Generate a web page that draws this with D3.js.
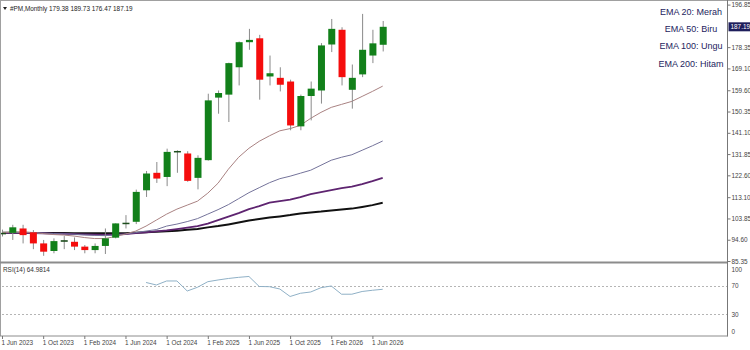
<!DOCTYPE html>
<html>
<head>
<meta charset="utf-8">
<script src="https://cdn.jsdelivr.net/npm/d3@7"></script>
<style>
  body { margin: 0; background: #fff; }
  svg { display: block; font-family: "Liberation Sans", Arial, sans-serif; }
</style>
</head>
<body>
<div id="container"></div>
<script>
// monthly bars, Jun 2023 .. Jul 2026
const months = ["2023-06","2023-07","2023-08","2023-09","2023-10","2023-11","2023-12",
  "2024-01","2024-02","2024-03","2024-04","2024-05","2024-06","2024-07","2024-08","2024-09","2024-10","2024-11","2024-12",
  "2025-01","2025-02","2025-03","2025-04","2025-05","2025-06","2025-07","2025-08","2025-09","2025-10","2025-11","2025-12",
  "2026-01","2026-02","2026-03","2026-04","2026-05","2026-06","2026-07"];
const open  = [97.3, 97.6, 99.5, 97.8, 93.0, 89.7, 93.7, 93.7, 91.6, 90.1, 91.9, 95.5, 101.7, 102.4, 116.1, 123.7, 121.9, 132.8, 132.1,
  121.5, 129.2, 156.4, 157.7, 169.6, 180.5, 182.2, 165.6, 165.0, 163.4, 143.9, 157.1, 159.5, 179.5, 185.9, 159.8, 166.5, 174.7, 179.38];
const high  = [99.0, 101.1, 101.1, 98.8, 94.5, 95.2, 96.2, 95.6, 92.3, 93.0, 99.5, 101.7, 105.3, 116.4, 124.5, 128.4, 134.2, 133.5, 133.1,
  131.3, 158.1, 159.5, 171.6, 180.8, 186.3, 183.7, 174.7, 169.6, 164.2, 157.7, 163.4, 180.1, 190.6, 187.0, 170.8, 192.8, 185.9, 189.73];
const low   = [96.0, 94.5, 93.0, 90.5, 87.6, 88.7, 90.5, 90.1, 88.7, 88.7, 88.4, 95.2, 99.5, 101.4, 113.2, 119.3, 117.9, 123.7, 119.8,
  116.5, 129.0, 149.4, 145.8, 161.7, 177.2, 155.5, 161.7, 159.1, 142.2, 142.2, 146.5, 153.8, 176.2, 161.7, 151.6, 165.3, 171.4, 176.47];
const close = [97.6, 100.0, 96.6, 93.0, 89.4, 94.0, 94.4, 91.6, 90.1, 91.9, 95.2, 101.7, 102.0, 115.4, 123.4, 121.2, 132.8, 133.2, 120.2,
  130.2, 155.2, 158.4, 171.4, 180.5, 181.5, 164.2, 167.0, 162.0, 144.3, 157.1, 160.3, 179.1, 186.3, 165.3, 165.0, 177.2, 180.0, 187.19];

// moving averages
const ema20  = [97.71, 97.93, 97.93, 97.71, 97.28, 96.85, 96.63, 96.20, 95.55, 95.11, 95.11, 95.98, 97.06, 98.37, 100.53, 103.14, 105.74,
  107.91, 109.65, 111.38, 114.85, 119.19, 125.26, 130.47, 134.37, 137.41, 139.80, 141.97, 142.92, 144.35, 147.39, 149.99, 152.16,
  153.46, 154.76, 156.93, 159.10, 161.40];
const ema50  = [97.71, 97.71, 97.71, 97.58, 97.50, 97.28, 97.15, 96.98, 96.72, 96.50, 96.37, 96.63, 97.06, 97.71, 98.37, 99.02, 100.53,
  101.40, 102.49, 103.79, 105.74, 107.69, 109.86, 112.46, 115.07, 117.24, 119.41, 121.14, 122.23, 123.53, 124.83, 127.00, 129.17,
  130.47, 131.55, 133.51, 135.46, 137.54];
const ema100 = [97.58, 97.58, 97.58, 97.50, 97.41, 97.28, 97.19, 97.06, 96.93, 96.80, 96.72, 96.85, 97.06, 97.50, 97.80, 98.24, 98.67,
  99.23, 99.88, 100.53, 101.62, 103.14, 104.66, 106.17, 107.91, 109.21, 110.73, 111.38, 112.03, 113.12, 114.42, 115.28, 116.15,
  117.02, 117.67, 118.76, 120.06, 121.49];
const ema200 = [97.63, 97.63, 97.63, 97.58, 97.54, 97.50, 97.50, 97.45, 97.41, 97.37, 97.37, 97.37, 97.41, 97.63, 97.80, 98.02, 98.28,
  98.54, 98.89, 99.23, 99.97, 100.53, 101.27, 102.05, 102.92, 103.57, 104.22, 104.74, 105.31, 106.04, 106.48, 106.83, 107.35,
  107.78, 108.13, 108.86, 109.65, 110.64];

// RSI(14), first value at Aug 2024
const rsiStart = 14;
const rsi = [74.5, 71.0, 76.6, 76.6, 62.6, 67.8, 75.6, 78.0, 80.1, 81.7, 82.9, 68.9, 68.6, 65.4, 54.9, 59.4, 61.2, 67.2, 69.6,
  58.1, 58.1, 61.9, 63.6, 64.98];

const priceTicks = [196.85, 178.35, 169.10, 159.60, 150.35, 141.10, 131.85, 122.60, 113.10, 103.85, 94.60, 85.35];
const rsiTicks = [100, 70, 30, 0];
const rsiLevels = [70, 30];
const legendLabels = ["EMA 20: Merah", "EMA 50: Biru", "EMA 100: Ungu", "EMA 200: Hitam"];

let width = 750;
let height = 350;
let plotRight = 727.5;

let svg = d3.create('svg').attr('width', width).attr('height', height);

let parse = d3.timeParse('%Y-%m');
let dates = months.map(parse);

let x = d3.scalePoint().domain(d3.range(dates.length)).range([2, 382.7]);
let y = d3.scaleLinear().domain([85.35, 196.85]).range([261, 4.6]);
let yR = d3.scaleLinear().domain([0, 100]).range([335.75, 264.25]);

svg.append('clipPath').attr('id', 'plot-clip')
  .append('rect').attr('x', 1).attr('y', 1).attr('width', plotRight - 1).attr('height', 260);
svg.append('clipPath').attr('id', 'rsi-clip')
  .append('rect').attr('x', 1).attr('y', 264).attr('width', plotRight - 1).attr('height', 72);

// frame
svg.append('line').attr('x1', 0).attr('x2', width).attr('y1', 0.5).attr('y2', 0.5).attr('stroke', '#a0a0a0');
svg.append('line').attr('x1', 0.5).attr('x2', 0.5).attr('y1', 0).attr('y2', 336).attr('stroke', '#a0a0a0');

let plot = svg.append('g').attr('clip-path', 'url(#plot-clip)');

// ema lines
let emaSets = [
  { data: ema200, color: '#111111', w: 2 },
  { data: ema100, color: '#5e2470', w: 1.8 },
  { data: ema50,  color: '#74739a', w: 1 },
  { data: ema20,  color: '#a98282', w: 1 }
];
emaSets.forEach(s => {
  plot.append('path')
    .datum(s.data)
    .attr('fill', 'none')
    .attr('stroke', s.color)
    .attr('stroke-width', s.w)
    .attr('d', d3.line().x((d, i) => x(i)).y(d => y(d)));
});

// candles
let idx = d3.range(dates.length);
plot.selectAll('.wick')
  .data(idx)
  .enter()
  .append('line')
  .attr('x1', i => x(i) + 0.5)
  .attr('x2', i => x(i) + 0.5)
  .attr('y1', i => y(high[i]))
  .attr('y2', i => y(low[i]))
  .attr('stroke', '#8a8a8a');

plot.selectAll('.body')
  .data(idx)
  .enter()
  .append('rect')
  .attr('x', i => x(i) - 3)
  .attr('width', 7)
  .attr('y', i => y(Math.max(open[i], close[i])))
  .attr('height', i => Math.max(1.5, Math.abs(y(open[i]) - y(close[i]))))
  .attr('fill', i => {
    if (Math.abs(y(open[i]) - y(close[i])) < 2) return '#1d4d1d';
    return close[i] >= open[i] ? '#12801a' : '#f50d0d';
  });

// title
svg.append('path').attr('d', 'M3,7 L7,7 L5,10 Z').attr('fill', '#222');
svg.append('text')
  .attr('x', 10).attr('y', 11)
  .attr('font-size', '6.4px').attr('fill', '#222')
  .text('#PM,Monthly  179.38 189.73 176.47 187.19');

// legend
let legend = svg.append('g');
legend.selectAll('text')
  .data(legendLabels)
  .enter()
  .append('text')
  .attr('x', 691)
  .attr('y', (d, i) => [15, 32, 49, 67][i])
  .attr('text-anchor', 'middle')
  .attr('font-size', '9px')
  .attr('fill', '#24245e')
  .text(d => d);

// price axis
let yAxis = d3.axisRight(y).tickValues(priceTicks).tickSize(3).tickFormat(d3.format('.2f'));
let ya = svg.append('g').attr('transform', `translate(${plotRight},0)`).call(yAxis);
ya.select('.domain').remove();
ya.selectAll('line').attr('stroke', '#777');
ya.selectAll('text').attr('font-size', '6.4px').attr('fill', '#444').attr('x', 4);

// current price marker
let last = close[close.length - 1];
svg.append('rect').attr('x', plotRight + 1).attr('y', y(last) - 4.5).attr('width', 22).attr('height', 9).attr('fill', '#1e1e5c');
svg.append('text').attr('x', plotRight + 3).attr('y', y(last) + 2.3)
  .attr('font-size', '6.4px').attr('fill', '#fff').text(last.toFixed(2));

// separator between panels
svg.append('rect').attr('x', 0).attr('y', 261.5).attr('width', plotRight).attr('height', 2).attr('fill', '#8c8c8c');

// RSI panel
let rsiG = svg.append('g').attr('clip-path', 'url(#rsi-clip)');
rsiG.selectAll('.lvl')
  .data(rsiLevels)
  .enter()
  .append('line')
  .attr('x1', 2).attr('x2', plotRight)
  .attr('y1', d => Math.round(yR(d)) + 0.5)
  .attr('y2', d => Math.round(yR(d)) + 0.5)
  .attr('stroke', '#b5b5b5')
  .attr('stroke-dasharray', '2,2');

rsiG.append('path')
  .datum(rsi)
  .attr('fill', 'none')
  .attr('stroke', '#8fb0c6')
  .attr('stroke-width', 1)
  .attr('d', d3.line().x((d, i) => x(i + rsiStart)).y(d => yR(d)));

svg.append('text').attr('x', 3).attr('y', 272)
  .attr('font-size', '6.4px').attr('fill', '#333').text('RSI(14) 64.9814');

let rAxis = d3.axisRight(yR).tickValues(rsiTicks).tickSize(0);
let ra = svg.append('g').attr('transform', `translate(${plotRight},0)`).call(rAxis);
ra.select('.domain').remove();
ra.selectAll('text')
  .attr('font-size', '6.4px').attr('fill', '#444').attr('x', 4)
  .attr('dy', d => d === 100 ? '1.1em' : d === 0 ? '-0.3em' : '0.32em');

// right axis line and bottom border
svg.append('line').attr('x1', plotRight).attr('x2', plotRight).attr('y1', 0).attr('y2', 336.5).attr('stroke', '#777');
svg.append('line').attr('x1', 0).attr('x2', plotRight).attr('y1', 336).attr('y2', 336).attr('stroke', '#8c8c8c');

// time axis
let fmt = d3.timeFormat('1 %b %Y');
let tickIdx = idx.filter(i => [5, 9, 1].includes(dates[i].getMonth()));
let xAxis = d3.axisBottom(x).tickValues(tickIdx).tickSize(3).tickFormat(i => fmt(dates[i]));
let xa = svg.append('g').attr('transform', 'translate(0,336)').call(xAxis);
xa.select('.domain').remove();
xa.selectAll('line').attr('stroke', '#777');
xa.selectAll('text')
  .attr('font-size', '6.4px').attr('fill', '#444')
  .attr('text-anchor', 'start').attr('x', -1).attr('y', 4).attr('dy', '0.71em');

d3.select('#container').append(() => svg.node());
</script>
</body>
</html>
